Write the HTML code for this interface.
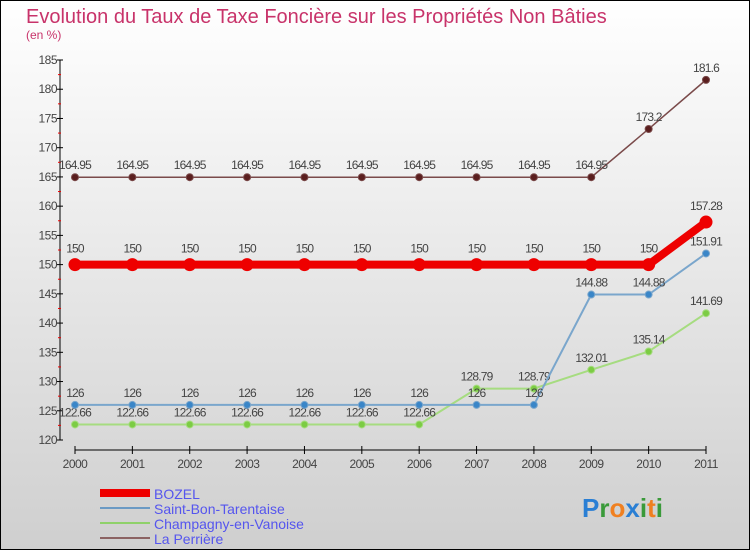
<!DOCTYPE html>
<html><head><meta charset="utf-8"><style>
body{margin:0}
#c{width:750px;height:550px;position:relative;overflow:hidden}
svg text{font-family:"Liberation Sans",sans-serif}
</style></head><body>
<div id="c">
<svg id="s" width="750" height="550" xmlns="http://www.w3.org/2000/svg">
<defs><linearGradient id="bg" x1="0" y1="0" x2="0" y2="1"><stop offset="0" stop-color="#ffffff"/><stop offset="1" stop-color="#cfcfcf"/></linearGradient></defs>
<rect x="0.5" y="0.5" width="749" height="549" fill="url(#bg)" stroke="#000"/>
<text x="26" y="23" font-size="20" fill="#c8336a">Evolution du Taux de Taxe Foncière sur les Propriétés Non Bâties</text>
<text x="26" y="39" font-size="12" fill="#c8336a">(en %)</text>
<g id="axes"></g><g id="series"></g>
<g>
<rect x="100" y="489" width="50" height="8" fill="#e00"/>
<text x="154" y="499" font-size="14" fill="#5555ee">BOZEL</text>
<line x1="100" y1="508" x2="150" y2="508" stroke="#6b9ac4" stroke-width="2"/>
<text x="154" y="514" font-size="14" fill="#5555ee">Saint-Bon-Tarentaise</text>
<line x1="100" y1="523" x2="150" y2="523" stroke="#8fd16a" stroke-width="2"/>
<text x="154" y="529" font-size="14" fill="#5555ee">Champagny-en-Vanoise</text>
<line x1="100" y1="538" x2="150" y2="538" stroke="#8b6262" stroke-width="2"/>
<text x="154" y="544" font-size="14" fill="#5555ee">La Perrière</text>
</g>
<text x="582" y="517" font-size="26" font-weight="bold"><tspan fill="#2a7fd4">P</tspan><tspan fill="#3a9a3a">r</tspan><tspan fill="#f08020">o</tspan><tspan fill="#2a7fd4">x</tspan><tspan fill="#3a9a3a">i</tspan><tspan fill="#f08020">t</tspan><tspan fill="#3a9a3a">i</tspan></text>
</svg></div>
<script>
const years=["2000","2001","2002","2003","2004","2005","2006","2007","2008","2009","2010","2011"];
const yTicks=[120,125,130,135,140,145,150,155,160,165,170,175,180,185];
const bozel=[150,150,150,150,150,150,150,150,150,150,150,157.28];
const saintBon=[126,126,126,126,126,126,126,126,126,144.88,144.88,151.91];
const champagny=[122.66,122.66,122.66,122.66,122.66,122.66,122.66,128.79,128.79,132.01,135.14,141.69];
const perriere=[164.95,164.95,164.95,164.95,164.95,164.95,164.95,164.95,164.95,164.95,173.2,181.6];
const NS="http://www.w3.org/2000/svg";
function X(i){return 75+i*(706-75)/11;}
function Y(v){return 440-(v-120)*(380/65);}
function mk(t,a,p){const e=document.createElementNS(NS,t);for(const k in a)e.setAttribute(k,a[k]);p.appendChild(e);return e;}
const ax=document.getElementById('axes');
let e=mk('line',{x1:60,y1:60,x2:60,y2:440,stroke:'#000'},ax);


e=mk('line',{x1:75,y1:450,x2:706,y2:450,stroke:'#000'},ax);


yTicks.forEach((v,i)=>{
 mk('line',{x1:57,y1:Y(v),x2:63,y2:Y(v),stroke:'#000'},ax);
 if(i<yTicks.length-1)mk('line',{x1:58,y1:Y(v+2.5),x2:61,y2:Y(v+2.5),stroke:'#e00'},ax);
 const t=mk('text',{x:57,y:Y(v)+4,'font-size':12,fill:'#444','text-anchor':'end','letter-spacing':'-0.5'},ax);
 t.textContent=v;
 
 
});
years.forEach((y,i)=>{
 mk('line',{x1:X(i),y1:446,x2:X(i),y2:454,stroke:'#000'},ax);
 const t=mk('text',{x:X(i),y:468,'font-size':12,fill:'#444','text-anchor':'middle','letter-spacing':'-0.5'},ax);
 t.textContent=y;
 
 
});
const sg=document.getElementById('series');
function fmt(v){return String(v);}
function draw(vals,name,col,dot,lw,r,labelOff){
 const g=mk('g',{},sg);
 
 
 const p=mk('polyline',{points:vals.map((v,i)=>X(i)+','+Y(v)).join(' '),fill:'none',stroke:col,'stroke-width':lw},g);
 
 
 vals.forEach((v,i)=>{
  const c=mk('circle',{cx:X(i),cy:Y(v),r:r,fill:dot,stroke:col,'stroke-width':1},g);
  
  
  const t=mk('text',{x:X(i),y:Y(v)+labelOff,'font-size':12,fill:'#444','text-anchor':'middle','letter-spacing':'-0.8'},g);
  t.textContent=fmt(v);
  
  
 });
}
draw(perriere,'la-perriere','#7a4a4a','#5a1e1e',1.5,3.5,-8);
draw(champagny,'champagny','#a6dc80','#7ccc44',2,3.5,-8);
draw(saintBon,'saint-bon','#7aa6cc','#3a86c8',2,3.5,-8);
draw(bozel,'bozel','#ee0000','#ee0000',8,6,-12);
</script>
</body></html>
